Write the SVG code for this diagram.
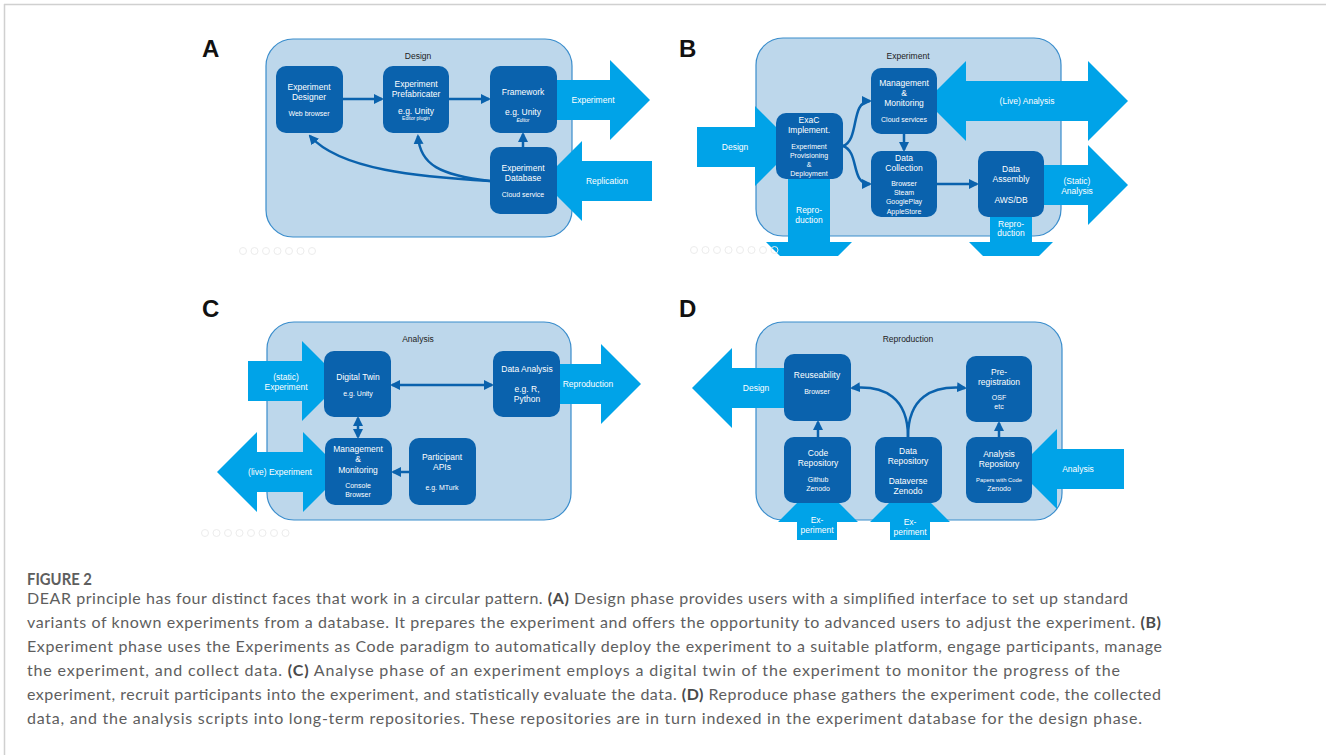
<svg xmlns="http://www.w3.org/2000/svg" width="1326" height="755" viewBox="0 0 1326 755">
<defs>
<style>
.cont{fill:#bdd7eb;stroke:#3a8dcc;stroke-width:1.2}
.node{fill:#0a62ad}
.big{fill:#00a3e8}
.t{font-family:"Liberation Sans",Arial,sans-serif;fill:#fff;text-anchor:middle}
.h{font-size:8.5px}
.s{font-size:7px}
.xs{font-size:5px}
.ct{font-family:"Liberation Sans",Arial,sans-serif;font-size:8.5px;fill:#222;text-anchor:middle}
.lbl{font-family:"Liberation Sans",Arial,sans-serif;font-size:24px;font-weight:bold;fill:#111}
.conn{stroke:#0a62ad;stroke-width:2.5;fill:none}
.dot{fill:none;stroke:#ececec;stroke-width:1}
.cap{font-family:Lato,"Open Sans","Liberation Sans",sans-serif;font-size:16px;fill:#5e5e5e}
.cap tspan.b{font-weight:bold;fill:#4a4a4a}
</style>
<marker id="ah" viewBox="0 0 10 10" refX="8" refY="5" markerWidth="4" markerHeight="4" orient="auto-start-reverse">
<path d="M0,0 L10,5 L0,10 z" fill="#0a62ad"/>
</marker>
</defs>
<rect width="1326" height="755" fill="#fff"/>
<g id="frame">
<line x1="4" y1="4.5" x2="1326" y2="4.5" stroke="#d0d0d0" stroke-width="1.5"/>
<line x1="4.5" y1="4" x2="4.5" y2="755" stroke="#d0d0d0" stroke-width="1.5"/>
</g>

<!-- Panel labels -->
<text class="lbl" x="202" y="57">A</text>
<text class="lbl" x="679" y="57">B</text>
<text class="lbl" x="202" y="317">C</text>
<text class="lbl" x="679" y="317">D</text>

<!-- Containers -->
<g id="containerA"><rect class="cont" x="266" y="39" width="306" height="198" rx="27"/><text class="ct" x="418" y="59">Design</text></g>
<g id="containerB"><rect class="cont" x="756" y="38" width="305" height="198" rx="27"/><text class="ct" x="908" y="59">Experiment</text></g>
<g id="containerC"><rect class="cont" x="267" y="322" width="304" height="198" rx="27"/><text class="ct" x="418" y="342">Analysis</text></g>
<g id="containerD"><rect class="cont" x="756" y="322" width="306" height="198" rx="27"/><text class="ct" x="908" y="342">Reproduction</text></g>

<!-- Big flow arrows -->
<g id="bigArrows">
<g id="A-experiment"><polygon class="big" points="557,80 610,80 610,60 650,100 610,140 610,120 557,120"/><text class="t h" x="593" y="103">Experiment</text></g>
<g id="A-replication"><polygon class="big" points="542,181 582,141 582,161 652,161 652,201 582,201 582,221"/><text class="t h" x="607" y="184">Replication</text></g>

<g id="B-design"><polygon class="big" points="697,127 755,127 755,106 795,146 755,186 755,167 697,167"/><text class="t h" x="735" y="150">Design</text></g>
<g id="B-live"><polygon class="big" points="926,101 966,61 966,81 1088,81 1088,61 1128,101 1088,141 1088,121 966,121 966,141"/><text class="t h" x="1027" y="104">(Live) Analysis</text></g>
<g id="B-static"><polygon class="big" points="1030,165 1088,165 1088,145 1128,185 1088,225 1088,205 1030,205"/><text class="t h" x="1077" y="184">(Static)</text><text class="t h" x="1077" y="194">Analysis</text></g>
<g id="B-repro1"><polygon class="big" points="788,170 830,170 830,242 852,242 838,256 780,256 766,242 788,242"/><text class="t h" x="809" y="213">Repro-</text><text class="t h" x="809" y="223">duction</text></g>
<g id="B-repro2"><polygon class="big" points="990,205 1032,205 1032,242 1053,242 1039,256 983,256 969,242 990,242"/><text class="t h" x="1011" y="227">Repro-</text><text class="t h" x="1011" y="236">duction</text></g>

<g id="C-static"><polygon class="big" points="248,361 302,361 302,341 342,381 302,421 302,401 248,401"/><text class="t h" x="286" y="380">(static)</text><text class="t h" x="286" y="390">Experiment</text></g>
<g id="C-repro"><polygon class="big" points="550,364 601,364 601,344 641,384 601,424 601,404 550,404"/><text class="t h" x="588" y="387">Reproduction</text></g>
<g id="C-live"><polygon class="big" points="217,472 257,432 257,452 303,452 303,432 343,472 303,512 303,492 257,492 257,512"/><text class="t h" x="280" y="475">(live) Experiment</text></g>

<g id="D-design"><polygon class="big" points="692,388 732,348 732,368 790,368 790,408 732,408 732,428"/><text class="t h" x="756" y="391">Design</text></g>
<g id="D-analysis"><polygon class="big" points="1017,469 1057,429 1057,449 1124,449 1124,489 1057,489 1057,509"/><text class="t h" x="1078" y="472">Analysis</text></g>
<g id="D-exp1"><polygon class="big" points="818,482 858,522 837,522 837,540 797,540 797,522 778,522"/><text class="t h" x="817" y="523">Ex-</text><text class="t h" x="817" y="533">periment</text></g>
<g id="D-exp2"><polygon class="big" points="910,482 950,522 930,522 930,540 890,540 890,522 870,522"/><text class="t h" x="910" y="525">Ex-</text><text class="t h" x="910" y="535">periment</text></g>
</g>

<!-- Connectors -->
<g id="connectors">
<line class="conn" x1="343" y1="99" x2="382" y2="99" marker-end="url(#ah)"/>
<line class="conn" x1="449" y1="99" x2="489" y2="99" marker-end="url(#ah)"/>
<line class="conn" x1="523" y1="147" x2="523" y2="134" marker-end="url(#ah)"/>
<path class="conn" d="M490,181 C420,177 340,170 310,136" marker-end="url(#ah)"/>
<path class="conn" d="M490,181 C440,175 420,165 418,136" marker-end="url(#ah)"/>

<path class="conn" d="M843,146 C860,140 850,101 870,101" marker-end="url(#ah)"/>
<path class="conn" d="M843,146 C860,152 850,184 870,184" marker-end="url(#ah)"/>
<line class="conn" x1="904" y1="134" x2="904" y2="150" marker-end="url(#ah)"/>
<line class="conn" x1="937" y1="184" x2="977" y2="184" marker-end="url(#ah)"/>

<line class="conn" x1="392" y1="385" x2="492" y2="385" marker-start="url(#ah)" marker-end="url(#ah)"/>
<line class="conn" x1="358" y1="418" x2="358" y2="437" marker-start="url(#ah)" marker-end="url(#ah)"/>
<line class="conn" x1="409" y1="472" x2="393" y2="472" marker-end="url(#ah)"/>

<line class="conn" x1="818" y1="437" x2="818" y2="422" marker-end="url(#ah)"/>
<line class="conn" x1="999" y1="437" x2="999" y2="423" marker-end="url(#ah)"/>
<path class="conn" d="M908,437 C908,398 885,385 852,388" marker-end="url(#ah)"/>
<path class="conn" d="M908,437 C908,398 931,385 965,388" marker-end="url(#ah)"/>
</g>

<!-- Nodes panel A -->
<g id="A-designer"><rect class="node" x="276" y="66" width="67" height="67" rx="10"/><text class="t h" x="309" y="90">Experiment</text><text class="t h" x="309" y="100">Designer</text><text class="t s" x="309" y="116">Web browser</text></g>
<g id="A-prefab"><rect class="node" x="383" y="66" width="66" height="67" rx="10"/><text class="t h" x="416" y="87">Experiment</text><text class="t h" x="416" y="97">Prefabricater</text><text class="t h" x="416" y="114">e.g. Unity</text><text class="t xs" x="416" y="120">Editor plugin</text></g>
<g id="A-framework"><rect class="node" x="490" y="66" width="67" height="67" rx="10"/><text class="t h" x="523" y="95">Framework</text><text class="t h" x="523" y="115">e.g. Unity</text><text class="t xs" x="523" y="122" font-style="italic">Editor</text></g>
<g id="A-database"><rect class="node" x="490" y="147" width="67" height="67" rx="10"/><text class="t h" x="523" y="171">Experiment</text><text class="t h" x="523" y="181">Database</text><text class="t s" x="523" y="197">Cloud service</text></g>

<!-- Nodes panel B -->
<g id="B-exac"><rect class="node" x="776" y="113" width="67" height="66" rx="10"/><text class="t h" x="809" y="123">ExaC</text><text class="t h" x="809" y="133">Implement.</text><text class="t s" x="809" y="149">Experiment</text><text class="t s" x="809" y="158">Provisioning</text><text class="t s" x="809" y="167">&amp;</text><text class="t s" x="809" y="176">Deployment</text></g>
<g id="B-mm"><rect class="node" x="871" y="68" width="66" height="66" rx="10"/><text class="t h" x="904" y="86">Management</text><text class="t h" x="904" y="96">&amp;</text><text class="t h" x="904" y="106">Monitoring</text><text class="t s" x="904" y="122">Cloud services</text></g>
<g id="B-dc"><rect class="node" x="871" y="151" width="66" height="66" rx="10"/><text class="t h" x="904" y="161">Data</text><text class="t h" x="904" y="171">Collection</text><text class="t s" x="904" y="186">Browser</text><text class="t s" x="904" y="195">Steam</text><text class="t s" x="904" y="204">GooglePlay</text><text class="t s" x="904" y="214">AppleStore</text></g>
<g id="B-da"><rect class="node" x="978" y="151" width="66" height="66" rx="10"/><text class="t h" x="1011" y="172">Data</text><text class="t h" x="1011" y="182">Assembly</text><text class="t h" x="1011" y="203">AWS/DB</text></g>

<!-- Nodes panel C -->
<g id="C-twin"><rect class="node" x="324" y="351" width="67" height="66" rx="10"/><text class="t h" x="358" y="380">Digital Twin</text><text class="t s" x="358" y="396">e.g. Unity</text></g>
<g id="C-analysis"><rect class="node" x="493" y="351" width="67" height="66" rx="10"/><text class="t h" x="527" y="372">Data Analysis</text><text class="t h" x="527" y="392">e.g. R,</text><text class="t h" x="527" y="402">Python</text></g>
<g id="C-mm"><rect class="node" x="325" y="438" width="67" height="67" rx="10"/><text class="t h" x="358" y="452">Management</text><text class="t h" x="358" y="462">&amp;</text><text class="t h" x="358" y="473">Monitoring</text><text class="t s" x="358" y="488">Console</text><text class="t s" x="358" y="497">Browser</text></g>
<g id="C-apis"><rect class="node" x="409" y="438" width="67" height="67" rx="10"/><text class="t h" x="442" y="460">Participant</text><text class="t h" x="442" y="470">APIs</text><text class="t s" x="442" y="490">e.g. MTurk</text></g>

<!-- Nodes panel D -->
<g id="D-reuse"><rect class="node" x="784" y="354" width="67" height="67" rx="10"/><text class="t h" x="817" y="378">Reuseability</text><text class="t s" x="817" y="394">Browser</text></g>
<g id="D-prereg"><rect class="node" x="966" y="356" width="66" height="66" rx="10"/><text class="t h" x="999" y="375">Pre-</text><text class="t h" x="999" y="385">registration</text><text class="t s" x="999" y="400">OSF</text><text class="t s" x="999" y="409">etc</text></g>
<g id="D-code"><rect class="node" x="784" y="437" width="67" height="66" rx="10"/><text class="t h" x="818" y="456">Code</text><text class="t h" x="818" y="466">Repository</text><text class="t s" x="818" y="482">Github</text><text class="t s" x="818" y="491">Zenodo</text></g>
<g id="D-data"><rect class="node" x="875" y="437" width="67" height="66" rx="10"/><text class="t h" x="908" y="454">Data</text><text class="t h" x="908" y="464">Repository</text><text class="t h" x="908" y="484">Dataverse</text><text class="t h" x="908" y="494">Zenodo</text></g>
<g id="D-analysisrepo"><rect class="node" x="966" y="437" width="66" height="66" rx="10"/><text class="t h" x="999" y="457">Analysis</text><text class="t h" x="999" y="467">Repository</text><text class="t" x="999" y="482" font-size="5.8">Papers with Code</text><text class="t s" x="999" y="491">Zenodo</text></g>

<!-- faint toolbar dots -->
<g id="dots">
<circle class="dot" cx="243" cy="251" r="3.5"/><circle class="dot" cx="254.5" cy="251" r="3.5"/><circle class="dot" cx="266" cy="251" r="3.5"/><circle class="dot" cx="277.5" cy="251" r="3.5"/><circle class="dot" cx="289" cy="251" r="3.5"/><circle class="dot" cx="300.5" cy="251" r="3.5"/><circle class="dot" cx="312" cy="251" r="3.5"/>
<circle class="dot" cx="694" cy="250" r="3.5"/><circle class="dot" cx="705.5" cy="250" r="3.5"/><circle class="dot" cx="717" cy="250" r="3.5"/><circle class="dot" cx="728.5" cy="250" r="3.5"/><circle class="dot" cx="740" cy="250" r="3.5"/><circle class="dot" cx="751.5" cy="250" r="3.5"/><circle class="dot" cx="763" cy="250" r="3.5"/><circle class="dot" cx="774.5" cy="250" r="3.5"/>
<circle class="dot" cx="205" cy="533" r="3.5"/><circle class="dot" cx="216.5" cy="533" r="3.5"/><circle class="dot" cx="228" cy="533" r="3.5"/><circle class="dot" cx="239.5" cy="533" r="3.5"/><circle class="dot" cx="251" cy="533" r="3.5"/><circle class="dot" cx="262.5" cy="533" r="3.5"/><circle class="dot" cx="274" cy="533" r="3.5"/><circle class="dot" cx="285.5" cy="533" r="3.5"/>
</g>

<!-- Caption -->
<g id="caption">
<text x="27" y="585" font-family="Lato,'Open Sans','Liberation Sans',sans-serif" font-size="17px" font-weight="bold" fill="#5e5e5e" textLength="65" lengthAdjust="spacingAndGlyphs">FIGURE 2</text>
<text class="cap" x="27" y="604" textLength="1101" lengthAdjust="spacing">DEAR principle has four distinct faces that work in a circular pattern. <tspan class="b">(A)</tspan> Design phase provides users with a simplified interface to set up standard</text>
<text class="cap" x="27" y="628" textLength="1134" lengthAdjust="spacing">variants of known experiments from a database. It prepares the experiment and offers the opportunity to advanced users to adjust the experiment. <tspan class="b">(B)</tspan></text>
<text class="cap" x="27" y="652" textLength="1135" lengthAdjust="spacing">Experiment phase uses the Experiments as Code paradigm to automatically deploy the experiment to a suitable platform, engage participants, manage</text>
<text class="cap" x="27" y="676" textLength="1093" lengthAdjust="spacing">the experiment, and collect data. <tspan class="b">(C)</tspan> Analyse phase of an experiment employs a digital twin of the experiment to monitor the progress of the</text>
<text class="cap" x="27" y="700" textLength="1134" lengthAdjust="spacing">experiment, recruit participants into the experiment, and statistically evaluate the data. <tspan class="b">(D)</tspan> Reproduce phase gathers the experiment code, the collected</text>
<text class="cap" x="27" y="724" textLength="1115" lengthAdjust="spacing">data, and the analysis scripts into long-term repositories. These repositories are in turn indexed in the experiment database for the design phase.</text>
</g>
</svg>
